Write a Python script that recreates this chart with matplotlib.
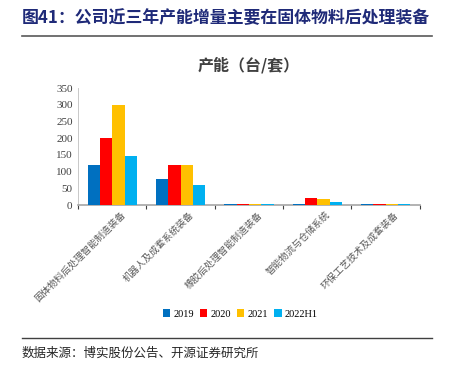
import numpy as np
import matplotlib.pyplot as plt

categories = ["固体物料后处理智能制造装备", "机器人及成套系统装备", "橡胶后处理智能制造装备",
              "智能物流与仓储系统", "环保工艺技术及成套装备"]
years = ["2019", "2020", "2021", "2022H1"]
v2019 = [120, 78, 4, 4, 4]
v2020 = [200, 120, 4, 20, 4]
v2021 = [300, 120, 4, 19, 4]
v2022h1 = [148, 60, 3, 8, 3]
colors = ["#0070C0", "#FF0000", "#FFC000", "#00B0F0"]

CJK = ["Noto Sans CJK SC", "DejaVu Sans"]
NUM = ["Liberation Serif", "Noto Sans CJK SC"]

fig = plt.figure(figsize=(4.49, 3.73), dpi=100)
ax = fig.add_axes([0.174, 0.450, 0.761, 0.314])

series = [v2019, v2020, v2021, v2022h1]
x = np.arange(len(categories))
w = 0.18
for i, (vals, c, lab) in enumerate(zip(series, colors, years)):
    ax.bar(x + (i - 1.5) * w, vals, width=w, color=c, label=lab, zorder=3)

ax.set_xlim(-0.5, len(categories) - 0.5)
ax.set_ylim(0, 350)
ax.set_yticks(range(0, 351, 50))
ax.set_yticklabels([str(t) for t in range(0, 351, 50)], family=NUM, fontsize=8, color="#404040")

# ticks at group boundaries, labels at centres
ax.set_xticks(np.arange(-0.5, len(categories)))
ax.set_xticklabels([])
ax.tick_params(axis="x", direction="out", length=3, color="#404040", width=0.8)
ax.tick_params(axis="y", length=0, pad=4)
for xi, lab in zip(x, categories):
    ax.text(xi + 0.12, -14, lab, rotation=45, ha="right", va="top",
            rotation_mode="anchor", fontsize=6.8, color="#595959", family=CJK)

for s in ["top", "right"]:
    ax.spines[s].set_visible(False)
ax.spines["left"].set_color("#bfbfbf")
ax.spines["left"].set_linewidth(0.6)
ax.spines["bottom"].set_color("#a6a6a6")
ax.spines["bottom"].set_linewidth(1.2)

ax.text(0.5, 1.12, "产能（台/套）", transform=ax.transAxes, ha="center", va="bottom",
        fontsize=11.5, fontweight="bold", color="#404040", family=CJK)

fig.legend(loc="center", bbox_to_anchor=(0.535, 0.158), ncol=4, frameon=False,
           handlelength=0.7, handleheight=0.7, handletextpad=0.3, columnspacing=0.6,
           prop={"family": NUM, "size": 7.5})

# report title and source
fig.text(0.049, 0.952, "图41：公司近三年产能增量主要在固体物料后处理装备", ha="left", va="center",
         fontsize=12.2, fontweight="bold", color="#1F2A78", family=CJK)
fig.add_artist(plt.Line2D([0.049, 0.962], [0.903, 0.903], color="#595959", lw=1.2))
fig.add_artist(plt.Line2D([0.049, 0.962], [0.094, 0.094], color="#404040", lw=1.0))
fig.text(0.049, 0.053, "数据来源：博实股份公告、开源证券研究所", ha="left", va="center",
         fontsize=9, color="#262626", family=CJK)

fig.savefig("out.png", dpi=100, facecolor="white")
